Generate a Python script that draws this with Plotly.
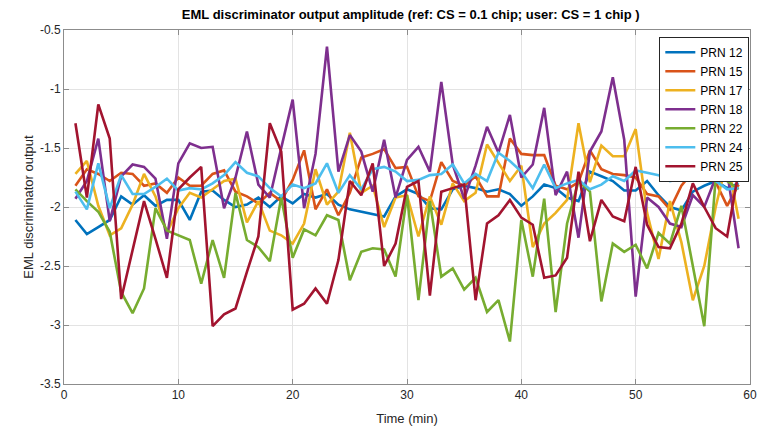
import plotly.graph_objects as go

time_min = list(range(1, 60))

prn12 = [-2.11, -2.23, -2.17, -2.11, -1.91, -1.98, -1.90, -1.99, -1.94, -1.94,
         -2.11, -1.87, -1.86, -1.94, -2.00, -1.98, -1.92, -2.00, -1.91, -1.97,
         -1.89, -1.92, -1.89, -1.98, -2.02, -2.04, -2.06, -2.08, -1.91, -1.85,
         -1.89, -2.01, -2.02, -1.85, -1.82, -1.84, -1.87, -1.85, -1.89, -1.99,
         -1.91, -1.81, -1.84, -1.92, -1.95, -1.70, -1.74, -1.78, -1.86, -1.86,
         -1.78, -1.90, -2.00, -2.03, -1.87, -1.82, -1.78, -1.84, -1.80]
prn15 = [-1.82, -1.68, -1.72, -1.78, -1.71, -1.72, -1.82, -1.80, -1.88, -1.75,
         -1.82, -1.82, -1.72, -1.69, -1.87, -1.91, -1.97, -1.88, -1.95, -1.77,
         -1.52, -2.02, -1.85, -2.07, -1.88, -1.58, -1.55, -1.51, -1.67, -1.66,
         -1.91, -1.95, -1.62, -1.78, -1.82, -1.74, -1.91, -1.91, -1.42, -1.55,
         -1.56, -1.56, -1.82, -1.85, -1.79, -1.52, -1.68, -1.72, -1.73, -1.75,
         -1.89, -1.91, -2.02, -1.82, -1.70, -1.73, -1.79, -1.99, -1.81]
prn17 = [-1.72, -1.61, -1.99, -2.24, -2.18, -1.98, -1.72, -1.91, -2.22, -2.01,
         -1.88, -1.92, -1.85, -1.78, -1.76, -2.13, -1.95, -2.20, -2.24, -2.31,
         -2.14, -1.68, -1.98, -1.87, -1.37, -1.88, -1.82, -2.17, -1.92, -1.90,
         -2.25, -1.91, -2.15, -1.80, -1.95, -1.88, -1.47, -1.62, -1.78, -1.65,
         -2.34, -2.14, -2.05, -1.94, -1.29, -1.79, -1.48, -1.57, -1.57, -1.34,
         -2.05, -2.44, -1.95, -2.30, -2.79, -2.50, -2.00, -1.60, -2.10]
prn18 = [-1.93, -1.78, -1.42, -2.12, -1.74, -1.64, -1.66, -1.76, -2.27, -1.63,
         -1.46, -1.50, -1.49, -2.01, -1.75, -1.36, -1.81, -1.92, -1.50, -1.09,
         -2.01, -1.55, -0.64, -1.70, -1.39, -1.53, -1.87, -1.43, -1.92, -1.60,
         -1.49, -1.70, -0.94, -1.64, -1.93, -1.65, -1.32, -1.54, -1.22, -1.75,
         -1.64, -1.16, -1.90, -1.70, -2.26, -1.53, -1.36, -0.90, -1.43, -2.76,
         -1.92, -2.00, -2.14, -2.17, -1.90, -2.00, -1.75, -1.70, -2.35]
prn22 = [-1.85, -1.95, -2.04, -2.21, -2.72, -2.90, -2.69, -2.01, -2.20, -2.24,
         -2.28, -2.65, -2.28, -2.60, -1.88, -2.28, -2.34, -2.46, -1.92, -2.43,
         -2.19, -2.24, -2.07, -2.11, -2.62, -2.38, -2.35, -2.36, -2.59, -1.90,
         -2.79, -1.95, -2.59, -2.52, -2.70, -2.60, -2.89, -2.79, -3.14, -2.11,
         -2.59, -1.93, -2.89, -2.14, -1.78, -1.87, -2.80, -2.31, -2.38, -2.32,
         -2.52, -2.22, -2.31, -1.99, -2.50, -3.01, -1.75, -1.78, -1.85]
prn24 = [-1.87, -2.02, -1.63, -2.01, -1.73, -1.89, -1.89, -1.83, -1.76, -1.86,
         -1.84, -1.85, -1.80, -1.73, -1.62, -1.71, -1.74, -1.84, -1.91, -1.81,
         -1.84, -1.80, -1.63, -1.88, -1.73, -1.85, -1.68, -1.66, -1.70, -1.78,
         -1.77, -1.73, -1.72, -1.64, -1.80, -1.72, -1.78, -1.54, -1.61, -1.70,
         -1.84, -1.64, -1.84, -1.80, -1.77, -1.85, -1.81, -1.74, -1.78, -1.69,
         -1.71, -1.73, -1.78, -1.76, -1.73, -1.71, -1.78, -1.85, -1.84]
prn25 = [-1.29, -1.92, -1.13, -1.42, -2.78, -2.37, -1.95, -2.27, -2.60, -1.85,
         -1.75, -1.66, -3.01, -2.91, -2.86, -2.55, -2.25, -1.29, -1.53, -2.87,
         -2.82, -2.69, -2.82, -2.45, -1.78, -1.90, -1.63, -2.50, -2.31, -1.83,
         -1.78, -2.75, -1.87, -1.84, -1.81, -2.79, -2.14, -2.07, -1.94, -2.09,
         -2.15, -2.60, -2.58, -2.43, -1.70, -2.29, -1.94, -2.08, -2.12, -1.66,
         -2.15, -2.34, -2.35, -2.14, -1.80, -2.00, -2.18, -2.25, -1.70]

series_names = ["PRN 12", "PRN 15", "PRN 17", "PRN 18", "PRN 22", "PRN 24", "PRN 25"]
series_values = [prn12, prn15, prn17, prn18, prn22, prn24, prn25]
series_colors = ["#0072BD", "#D95319", "#EDB120", "#7E2F8E", "#77AC30", "#4DBEEE", "#A2142F"]

x_tick_vals = [0, 10, 20, 30, 40, 50, 60]
x_tick_text = ["0", "10", "20", "30", "40", "50", "60"]
y_tick_vals = [-0.5, -1, -1.5, -2, -2.5, -3, -3.5]
y_tick_text = ["-0.5", "-1", "-1.5", "-2", "-2.5", "-3", "-3.5"]

fig = go.Figure()
for name, vals, col in zip(series_names, series_values, series_colors):
    fig.add_trace(go.Scatter(x=time_min, y=vals, mode="lines", name=name,
                             line=dict(color=col, width=2.6)))

axis_common = dict(
    showgrid=True, gridcolor="#e3e3e3", gridwidth=1,
    showline=True, linecolor="#8c8c8c", linewidth=1, mirror="allticks",
    ticks="inside", ticklen=5, tickcolor="#8c8c8c",
    tickfont=dict(family="Liberation Sans, Arial, sans-serif", size=12, color="#262626"),
    zeroline=False,
)

fig.update_layout(
    width=757, height=426,
    margin=dict(l=56, r=8, t=22, b=50),
    paper_bgcolor="white", plot_bgcolor="white",
    font=dict(family="Liberation Sans, Arial, sans-serif", color="#262626"),
    title=dict(text="<b>EML discriminator output amplitude (ref: CS = 0.1 chip; user: CS = 1 chip )</b>",
               x=0.532, xanchor="center", y=0.986, yanchor="middle",
               font=dict(size=13, color="#000000")),
    xaxis=dict(range=[0, 60], tickvals=x_tick_vals, ticktext=x_tick_text,
               ticklabeloverflow="allow",
               title=dict(text="Time (min)", font=dict(size=13, color="#262626"), standoff=12),
               **axis_common),
    yaxis=dict(range=[-3.5, -0.5], tickvals=y_tick_vals, ticktext=y_tick_text,
               title=dict(text="EML discriminator output", font=dict(size=13, color="#262626"), standoff=3),
               **axis_common),
    legend=dict(x=0.999, xanchor="right", y=0.981, yanchor="top",
                bgcolor="white", bordercolor="#262626", borderwidth=1,
                font=dict(size=12, color="#000000"),
                tracegroupgap=0, itemwidth=30),
    showlegend=True,
)

fig.write_html("out.html")
